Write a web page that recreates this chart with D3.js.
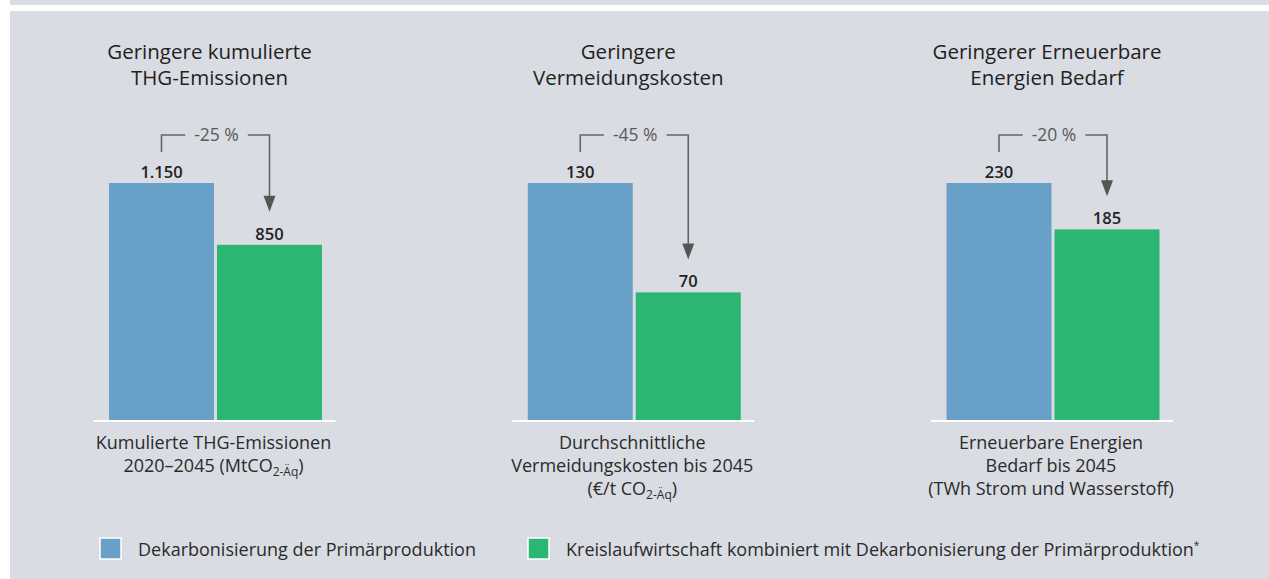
<!DOCTYPE html>
<html>
<head>
<meta charset="utf-8">
<script src="https://cdn.jsdelivr.net/npm/d3@7"></script>
<style>
  body { margin: 0; background: #ffffff; }
  svg { display: block; font-family: "Open Sans", Roboto, sans-serif; }
</style>
</head>
<body>
<div id="chart"></div>
<script>
// chart data
var panels = ["emissions", "costs", "energy"];
var panelTitles = [
  ["Geringere kumulierte", "THG-Emissionen"],
  ["Geringere", "Vermeidungskosten"],
  ["Geringerer Erneuerbare", "Energien Bedarf"]
];
var series = ["primary", "circular"];
var seriesNames = [
  "Dekarbonisierung der Primärproduktion",
  "Kreislaufwirtschaft kombiniert mit Dekarbonisierung der Primärproduktion"
];
var primaryValues = [1150, 130, 230];
var circularValues = [850, 70, 185];
var changeLabels = ["-25 %", "-45 %", "-20 %"];
// each line is a list of [text, isSubscript] parts
var unitLabels = [
  [[["Kumulierte THG-Emissionen", false]], [["2020–2045 (MtCO", false], ["2-Äq", true], [")", false]]],
  [[["Durchschnittliche", false]], [["Vermeidungskosten bis 2045", false]], [["(€/t CO", false], ["2-Äq", true], [")", false]]],
  [[["Erneuerbare Energien", false]], [["Bedarf bis 2045", false]], [["(TWh Strom und Wasserstoff)", false]]]
];

var colors = { primary: "#68a0c8", circular: "#2bb673" };

var width = 1269, height = 579;
var baseY = 420, barMaxH = 237;

var de = d3.formatLocale({ decimal: ",", thousands: ".", grouping: [3], currency: ["", " €"] });
var fmt = de.format(",d");

var svg = d3.select("#chart").append("svg")
  .attr("width", width)
  .attr("height", height);

// background
svg.append("rect").attr("width", width).attr("height", height).attr("fill", "#d9dce3");
svg.append("rect").attr("x", 0).attr("y", 0).attr("width", 10).attr("height", height).attr("fill", "#ffffff");
svg.append("rect").attr("x", 10).attr("y", 5).attr("width", width - 10).attr("height", 6).attr("fill", "#ffffff");

var panelX = d3.scalePoint().domain(panels).range([215.5, 1053]);
var barX = d3.scaleBand().domain(series).range([-106.5, 106.5]).paddingInner(0.028);

panels.forEach(function(p, i) {
  var cx = panelX(p);
  var g = svg.append("g").attr("transform", "translate(" + cx + ",0)");
  var vals = { primary: primaryValues[i], circular: circularValues[i] };
  var y = d3.scaleLinear().domain([0, primaryValues[i]]).range([baseY, baseY - barMaxH]);

  // title
  g.append("text")
    .attr("text-anchor", "middle")
    .attr("fill", "#222")
    .style("font-size", "20.5px")
    .selectAll("tspan")
    .data(panelTitles[i])
    .enter().append("tspan")
      .attr("x", -6)
      .attr("y", function(d, k) { return 59 + k * 26; })
      .text(function(d) { return d; });

  // bars
  g.selectAll("rect.bar")
    .data(series)
    .enter().append("rect")
      .attr("class", "bar")
      .attr("x", function(s) { return barX(s); })
      .attr("width", barX.bandwidth())
      .attr("y", function(s) { return y(vals[s]); })
      .attr("height", function(s) { return baseY - y(vals[s]); })
      .attr("fill", function(s) { return colors[s]; });

  // baseline
  g.append("line")
    .attr("x1", -122).attr("x2", 120)
    .attr("y1", baseY + 1).attr("y2", baseY + 1)
    .attr("stroke", "#ffffff").attr("stroke-width", 2);

  // value labels
  g.selectAll("text.val")
    .data(series)
    .enter().append("text")
      .attr("class", "val")
      .attr("text-anchor", "middle")
      .attr("x", function(s) { return barX(s) + barX.bandwidth() / 2; })
      .attr("y", function(s) { return y(vals[s]) - 5; })
      .attr("fill", "#222")
      .style("font-size", "16.5px")
      .style("font-weight", "600")
      .text(function(s) { return fmt(vals[s]); });

  // change bracket + arrow
  var xa = barX("primary") + barX.bandwidth() / 2;
  var xb = barX("circular") + barX.bandwidth() / 2;
  var topY = 135;
  var tipY = y(vals.circular) - 33;
  var mid = (xa + xb) / 2 + 1;
  var pct = g.append("text")
    .attr("text-anchor", "middle")
    .attr("x", mid)
    .attr("y", topY + 6)
    .attr("fill", "#5a5a5a")
    .style("font-size", "17.5px")
    .text(changeLabels[i]);
  var tw = pct.node().getComputedTextLength();
  var lineColor = "#666";
  g.append("path")
    .attr("d", "M" + xa + "," + (topY + 17) + "V" + topY + "H" + (mid - tw / 2 - 9))
    .attr("fill", "none").attr("stroke", lineColor).attr("stroke-width", 1.6);
  g.append("path")
    .attr("d", "M" + (mid + tw / 2 + 9) + "," + topY + "H" + xb + "V" + (tipY - 14))
    .attr("fill", "none").attr("stroke", lineColor).attr("stroke-width", 1.6);
  g.append("path")
    .attr("d", "M" + (xb - 6) + "," + (tipY - 16) + "L" + (xb + 6) + "," + (tipY - 16) + "L" + xb + "," + tipY + "Z")
    .attr("fill", "#555");

  // unit labels under the axis
  var ul = g.append("text")
    .attr("text-anchor", "middle")
    .attr("fill", "#2b2b2b")
    .style("font-size", "18px");
  unitLabels[i].forEach(function(line, k) {
    var t = ul.append("tspan").attr("x", -2).attr("y", 449 + k * 23);
    line.forEach(function(part, j) {
      var s = t.append("tspan").text(part[0]);
      if (part[1]) {
        s.style("font-size", "12px").attr("dy", 4);
      } else if (j > 0) {
        s.attr("dy", -4);
      }
    });
  });
});

// legend
var legend = svg.append("g");
var legendX = [100, 528];
series.forEach(function(s, i) {
  var lg = legend.append("g").attr("transform", "translate(" + legendX[i] + ",538)");
  lg.append("rect")
    .attr("width", 21).attr("height", 21)
    .attr("fill", colors[s])
    .attr("stroke", "#ffffff").attr("stroke-width", 1.5);
  var t = lg.append("text")
    .attr("x", 38).attr("y", 18)
    .attr("fill", "#2b2b2b")
    .style("font-size", "18px")
    .text(seriesNames[i]);
  if (i === 1) {
    t.append("tspan").attr("dy", -7).style("font-size", "10px").text("*");
  }
});
</script>
</body>
</html>
